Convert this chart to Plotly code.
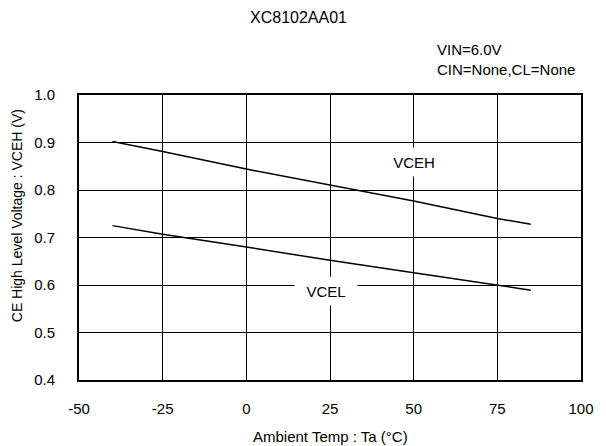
import plotly.graph_objects as go

temps = [-40, -25, 0, 25, 50, 75, 85]
vceh = [0.902, 0.881, 0.844, 0.810, 0.777, 0.740, 0.728]
vcel = [0.725, 0.707, 0.680, 0.652, 0.626, 0.600, 0.589]

x_ticks = [-50, -25, 0, 25, 50, 75, 100]
x_ticklabels = ["-50", "-25", "0", "25", "50", "75", "100"]
y_ticks = [0.4, 0.5, 0.6, 0.7, 0.8, 0.9, 1.0]
y_ticklabels = ["0.4", "0.5", "0.6", "0.7", "0.8", "0.9", "1.0"]

FONT = "Liberation Sans, Arial, sans-serif"

fig = go.Figure()
fig.add_trace(go.Scatter(x=temps, y=vceh, mode="lines", name="VCEH",
                         line=dict(color="black", width=1.5)))
fig.add_trace(go.Scatter(x=temps, y=vcel, mode="lines", name="VCEL",
                         line=dict(color="black", width=1.5)))

W, H = 606, 446
L, R, T, B = 79, 15, 95, 66
pw = W - L - R
ph = H - T - B

def px(xp):
    return (xp - L) / pw

def py(yp):
    return (H - B - yp) / ph

fig.update_layout(
    width=W, height=H,
    margin=dict(l=L, r=R, t=T, b=B, pad=0),
    paper_bgcolor="white", plot_bgcolor="white",
    showlegend=False,
    font=dict(family=FONT, size=15, color="black"),
    xaxis=dict(range=[-50, 100], tickvals=x_ticks, ticktext=x_ticklabels, ticks="",
               showgrid=True, gridcolor="black", gridwidth=1.3,
               showline=True, linecolor="black", linewidth=2, mirror=True,
               zeroline=False, ticklabelstandoff=14,
               tickfont=dict(size=15)),
    yaxis=dict(range=[0.4, 1.0], tickvals=y_ticks, ticktext=y_ticklabels, ticks="",
               showgrid=True, gridcolor="black", gridwidth=1.3,
               showline=True, linecolor="black", linewidth=2, mirror=True,
               zeroline=False, ticklabelstandoff=19,
               tickfont=dict(size=15)),
)

ann = []
ann.append(dict(text="XC8102AA01", xref="paper", yref="paper", x=px(302.5), y=py(17),
                showarrow=False, font=dict(size=16), xanchor="center", yanchor="middle"))
ann.append(dict(text="VIN=6.0V", xref="paper", yref="paper", x=px(442), y=py(50),
                showarrow=False, font=dict(size=15), xanchor="left", yanchor="middle"))
ann.append(dict(text="CIN=None,CL=None", xref="paper", yref="paper", x=px(442), y=py(70),
                showarrow=False, font=dict(size=15), xanchor="left", yanchor="middle"))
ann.append(dict(text="CE High Level Voltage : VCEH (V)", xref="paper", yref="paper",
                x=px(16), y=py(216), textangle=-90,
                showarrow=False, font=dict(size=14), xanchor="center", yanchor="middle"))
ann.append(dict(text="Ambient Temp : Ta (°C)", xref="paper", yref="paper",
                x=px(335), y=py(436),
                showarrow=False, font=dict(size=15), xanchor="center", yanchor="middle"))
# series labels with white boxes
ann.append(dict(text="VCEH", xref="x", yref="y", x=50, y=0.858,
                showarrow=False, font=dict(size=15), bgcolor="white",
                height=26, width=52, xanchor="center", yanchor="middle"))
ann.append(dict(text="VCEL", xref="x", yref="y", x=23.7, y=0.588,
                showarrow=False, font=dict(size=15), bgcolor="white",
                height=26, width=60, xanchor="center", yanchor="middle"))
fig.update_layout(annotations=ann)

fig.write_html("out.html", config={"displayModeBar": False},
               post_script="document.body.style.margin='0';document.body.style.padding='0';")
